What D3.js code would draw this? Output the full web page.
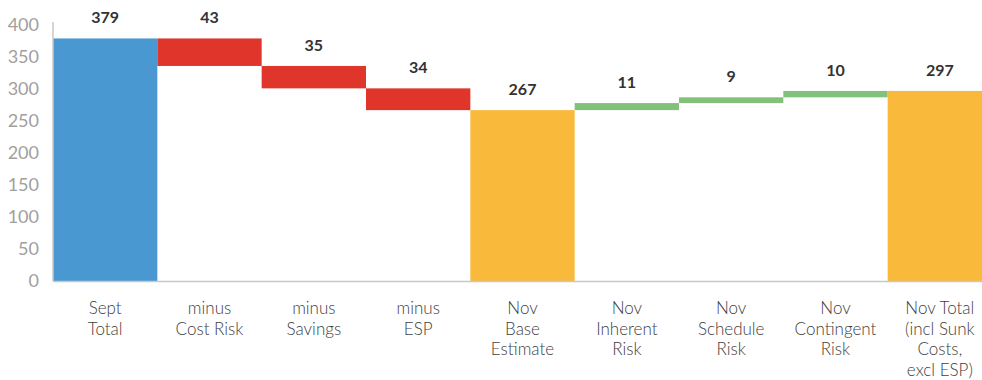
<!DOCTYPE html>
<html><head><meta charset="utf-8">
<script src="https://cdn.jsdelivr.net/npm/d3@7"></script>
<style>body{margin:0;background:#fff;}svg{display:block;}</style>
</head><body><svg id="c" width="982" height="380"></svg>
<script>
const categories = [
  ["Sept","Total"],
  ["minus","Cost Risk"],
  ["minus","Savings"],
  ["minus","ESP"],
  ["Nov","Base","Estimate"],
  ["Nov","Inherent","Risk"],
  ["Nov","Schedule","Risk"],
  ["Nov","Contingent","Risk"],
  ["Nov Total","(incl Sunk","Costs,","excl ESP)"]
];
const values = [379, -43, -35, -34, 267, 11, 9, 10, 297];
const kinds = ["total","dec","dec","dec","sub","inc","inc","inc","sub"];
const yTicks = [0,50,100,150,200,250,300,350,400];
const colors = {total:"#4A98D2", dec:"#E0352A", sub:"#F9B93A", inc:"#82C17A"};

// compute floating bars
let run = 0;
const bars = values.map((v,i)=>{
  let lo, hi;
  if (kinds[i]==="total" || kinds[i]==="sub") { lo = 0; hi = v; run = v; }
  else { const nr = run + v; lo = Math.min(run,nr); hi = Math.max(run,nr); run = nr; }
  return {i, lo, hi, label: Math.abs(v), kind: kinds[i]};
});

const svg = d3.select("#c");
const x0 = 53, x1 = 992, yBottom = 281, yTop = 25;
const x = d3.scaleBand().domain(d3.range(categories.length)).range([x0,x1]).padding(0);
const y = d3.scaleLinear().domain([0,400]).range([yBottom,yTop]);

svg.append("g").selectAll("rect").data(bars).join("rect")
  .attr("x", d=>x(d.i)).attr("width", x.bandwidth())
  .attr("y", d=>y(d.hi)).attr("height", d=>y(d.lo)-y(d.hi))
  .attr("fill", d=>colors[d.kind]);

// axes
const yAxis = d3.axisLeft(y).tickValues(yTicks).tickSize(0).tickPadding(14);
const gy = svg.append("g").attr("transform",`translate(${x0},0)`).call(yAxis);
gy.select(".domain").attr("stroke","#c8c8c8").attr("stroke-width",1.5).attr("d",`M0,${yBottom}V${yTop-3}`);
gy.selectAll("text").attr("font-family","Lato, sans-serif").attr("font-size",18).attr("fill","#a0a0a0");

svg.append("line").attr("x1",x0).attr("x2",982).attr("y1",yBottom+0.5).attr("y2",yBottom+0.5)
  .attr("stroke","#c8c8c8").attr("stroke-width",1.5);

// value labels
svg.append("g").selectAll("text").data(bars).join("text")
  .attr("x", d=>x(d.i)+x.bandwidth()/2).attr("y", d=>y(d.hi)-15)
  .attr("text-anchor","middle").attr("font-family","Lato, sans-serif")
  .attr("font-weight","bold").attr("font-size",16).attr("fill","#333")
  .text(d=>d.label);

// category labels
const cg = svg.append("g").selectAll("text").data(categories).join("text")
  .attr("text-anchor","middle").attr("font-family","Lato, sans-serif")
  .attr("font-weight",300)
  .attr("font-size",17).attr("fill","#404040")
  .attr("transform",(d,i)=>`translate(${x(i)+x.bandwidth()/2},314)`);
cg.selectAll("tspan").data(d=>d).join("tspan")
  .attr("x",0).attr("dy",(d,j)=>j===0?0:20.5).text(d=>d);
</script></body></html>
